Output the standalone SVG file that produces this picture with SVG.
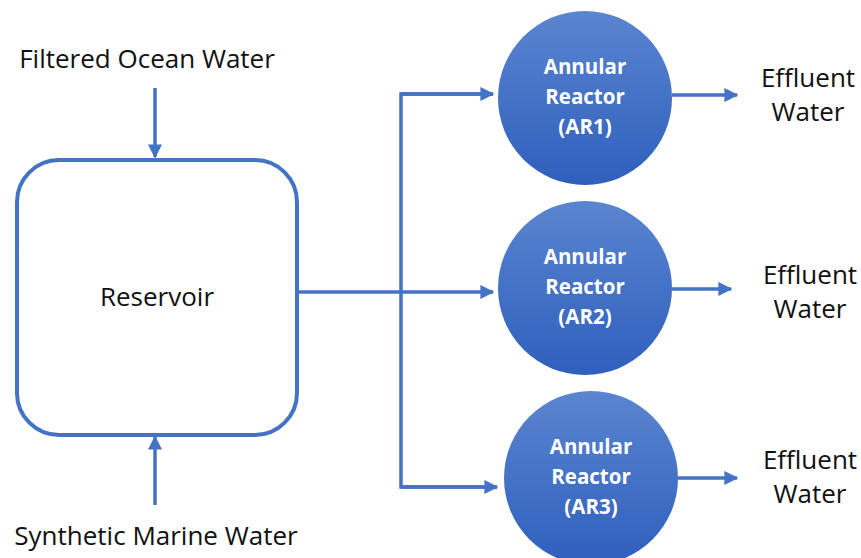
<svg xmlns="http://www.w3.org/2000/svg" width="861" height="558" viewBox="0 0 861 558">
<defs>
<linearGradient id="g" x1="0" y1="0" x2="0" y2="1">
<stop offset="0" stop-color="#5a85cf"/>
<stop offset="1" stop-color="#2f5fbd"/>
</linearGradient>
<marker id="ah" viewBox="0 0 10 10" refX="9" refY="5" markerWidth="4" markerHeight="4" orient="auto" markerUnits="strokeWidth">
<path d="M0,0 L10,5 L0,10 z" fill="#4472C4"/>
</marker>
<style>
.ln{stroke:#4472C4;stroke-width:3.5;fill:none}
.lbl{font-family:"Open Sans","Liberation Sans",sans-serif;font-size:26px;fill:#111}
.ct{font-family:"Open Sans","Liberation Sans",sans-serif;font-size:20.5px;font-weight:bold;fill:#fff;text-anchor:middle}
</style>
</defs>
<rect width="861" height="558" fill="#fff"/>
<g id="connectors">
<line class="ln" x1="155" y1="88" x2="155" y2="157" marker-end="url(#ah)"/>
<line class="ln" x1="155" y1="505" x2="155" y2="437" marker-end="url(#ah)"/>
<line class="ln" x1="298" y1="292" x2="401" y2="292"/>
<polyline class="ln" points="493,94 401,94 401,487 497,487"/>
<line class="ln" x1="401" y1="94" x2="493" y2="94" marker-end="url(#ah)"/>
<line class="ln" x1="401" y1="292" x2="493" y2="292" marker-end="url(#ah)"/>
<line class="ln" x1="401" y1="487" x2="497" y2="487" marker-end="url(#ah)"/>
<line class="ln" x1="672" y1="95" x2="737" y2="95" marker-end="url(#ah)"/>
<line class="ln" x1="672" y1="289" x2="731" y2="289" marker-end="url(#ah)"/>
<line class="ln" x1="678" y1="478" x2="737" y2="478" marker-end="url(#ah)"/>
</g>
<g id="filtered"><text class="lbl" x="147" y="68" text-anchor="middle">Filtered Ocean Water</text></g>
<g id="synthetic"><text class="lbl" x="156" y="545" text-anchor="middle">Synthetic Marine Water</text></g>
<g id="reservoir">
<rect x="17" y="160" width="280" height="275" rx="42" ry="42" fill="#fff" stroke="#4472C4" stroke-width="4"/>
<text class="lbl" x="157" y="306" text-anchor="middle">Reservoir</text>
</g>
<g id="ar1">
<circle cx="585" cy="98" r="87" fill="url(#g)"/>
<text class="ct" x="585" y="74">Annular</text>
<text class="ct" x="585" y="104">Reactor</text>
<text class="ct" x="585" y="134">(AR1)</text>
</g>
<g id="ar2">
<circle cx="585" cy="288" r="87" fill="url(#g)"/>
<text class="ct" x="585" y="264">Annular</text>
<text class="ct" x="585" y="294">Reactor</text>
<text class="ct" x="585" y="324">(AR2)</text>
</g>
<g id="ar3">
<circle cx="591" cy="478" r="87" fill="url(#g)"/>
<text class="ct" x="591" y="454">Annular</text>
<text class="ct" x="591" y="484">Reactor</text>
<text class="ct" x="591" y="514">(AR3)</text>
</g>
<g id="eff1">
<text class="lbl" x="808" y="87" text-anchor="middle">Effluent</text>
<text class="lbl" x="808" y="121" text-anchor="middle">Water</text>
</g>
<g id="eff2">
<text class="lbl" x="810" y="284" text-anchor="middle">Effluent</text>
<text class="lbl" x="810" y="318" text-anchor="middle">Water</text>
</g>
<g id="eff3">
<text class="lbl" x="810" y="469" text-anchor="middle">Effluent</text>
<text class="lbl" x="810" y="503" text-anchor="middle">Water</text>
</g>
</svg>
